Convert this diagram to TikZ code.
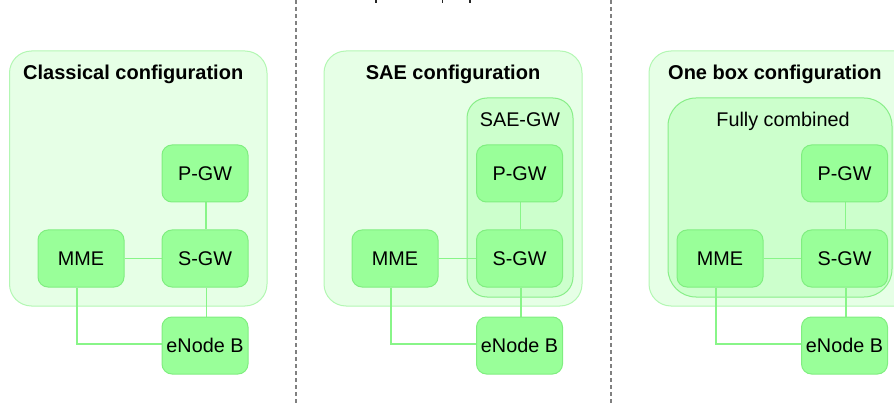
\documentclass[tikz,border=0pt]{standalone}
\usepackage{fontspec}
\setmainfont{Liberation Sans}
\definecolor{panelfill}{HTML}{E6FFE6}
\definecolor{paneledge}{HTML}{B3F7B3}
\definecolor{groupfill}{HTML}{CCFFCC}
\definecolor{groupedge}{HTML}{88EE88}
\definecolor{boxfill}{HTML}{99FF99}
\definecolor{boxedge}{HTML}{80EE80}
\definecolor{linkcol}{HTML}{88F588}
\definecolor{sepcol}{HTML}{808080}
\pgfdeclarelayer{panels}
\pgfdeclarelayer{links}
\pgfsetlayers{panels,links,main}
\tikzset{
  panel/.style={fill=panelfill, draw=paneledge, line width=1pt, rounded corners=22pt},
  group/.style={fill=groupfill, draw=groupedge, line width=1pt, rounded corners=20pt},
  netbox/.style={fill=boxfill, draw=boxedge, line width=1pt, rounded corners=10pt,
    minimum width=86pt, minimum height=57pt, inner sep=0pt,
    font=\fontsize{19.8}{24}\selectfont},
  title/.style={font=\fontsize{20}{24}\selectfont\bfseries, inner sep=0pt},
  grouplabel/.style={font=\fontsize{19.8}{24}\selectfont, inner sep=0pt},
  link/.style={draw=linkcol, line width=1.2pt},
  separator/.style={draw=sepcol, line width=1.5pt, dash pattern=on 4pt off 3pt},
}
\newcommand{\mmetext}{MME\hspace{8pt}}
\newcommand{\enbtext}{\raisebox{-4pt}{eNode B}}
\begin{document}
\begin{tikzpicture}[x=1pt, y=-1pt]
\useasboundingbox (0,0) rectangle (894,406);
\clip (0,0) rectangle (894,406);

% separators between the three panels
\draw[separator] (296,0) -- (296,406);
\draw[separator] (611,0) -- (611,406);

% descenders of the heading line above
\fill[black!85] (375.4,0) rectangle (377,3.2);
\fill[black!85] (441.6,0) rectangle (443.2,3.2);
\fill[black!85] (469.4,0) rectangle (471,3.2);

% ---------- Classical configuration ----------
\begin{pgfonlayer}{panels}
\draw[panel] (9.5,51) rectangle (267,306);
\end{pgfonlayer}
\node[title, anchor=base west] (t1) at (23,80) {Classical configuration};
\node[netbox] (pgw1) at (205,173.5) {P-GW};
\node[netbox] (sgw1) at (205,258.5) {S-GW};
\node[netbox] (mme1) at (81,258.5) {\mmetext};
\node[netbox] (enb1) at (205,345.5) {\enbtext};

% ---------- SAE configuration ----------
\begin{pgfonlayer}{panels}
\draw[panel] (324,51) rectangle (582,306);
\draw[group] (467,98) rectangle (573,297);
\end{pgfonlayer}
\node[title, anchor=base] (t2) at (453,80) {SAE configuration};
\node[grouplabel, anchor=base] (g2) at (520,127) {SAE-GW};
\node[netbox] (pgw2) at (519.5,173.5) {P-GW};
\node[netbox] (sgw2) at (519.5,258.5) {S-GW};
\node[netbox] (mme2) at (395,258.5) {\mmetext};
\node[netbox] (enb2) at (519.5,345.5) {\enbtext};

% ---------- One box configuration ----------
\begin{pgfonlayer}{panels}
\draw[panel] (649,51) rectangle (930,306);
\draw[group, rounded corners=28pt] (668,98) rectangle (892,297);
\end{pgfonlayer}
\node[title, anchor=base west] (t3) at (668,80) {One box configuration};
\node[grouplabel, anchor=base] (g3) at (783,127) {Fully combined};
\node[netbox] (pgw3) at (844.5,173.5) {P-GW};
\node[netbox] (sgw3) at (844.5,258.5) {S-GW};
\node[netbox] (mme3) at (720,258.5) {\mmetext};
\node[netbox] (enb3) at (844.5,345.5) {\enbtext};

% links between the network elements, kept under the boxes
\begin{pgfonlayer}{links}
\foreach \i in {1,2,3} {
  \draw[link] ([xshift=1pt]pgw\i.south) -- ([xshift=1pt]sgw\i.north);
  \draw[link] (mme\i.east) -- (sgw\i.west);
  \draw[link] ([xshift=1.5pt]sgw\i.south) -- ([xshift=1.5pt]enb\i.north);
  \draw[link] ([xshift=-4pt]mme\i.south) |- ([yshift=1.5pt]enb\i.west);
}
\end{pgfonlayer}
\end{tikzpicture}
\end{document}
